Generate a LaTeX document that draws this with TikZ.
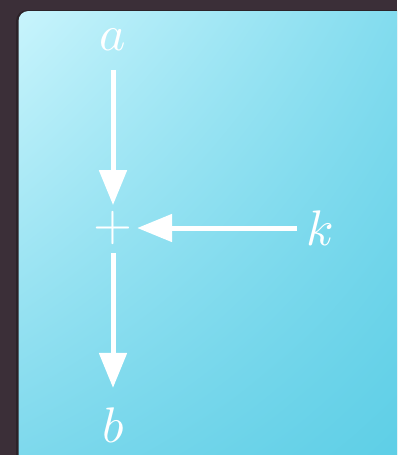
\documentclass[tikz,border=0pt]{standalone}
\DeclareFontShape{OML}{cmm}{m}{it}{<->cmmi10}{}
\DeclareFontShape{OT1}{cmr}{m}{n}{<->cmr10}{}
\DeclareFontShape{OMS}{cmsy}{m}{n}{<->cmsy10}{}
\usetikzlibrary{arrows.meta,shadings}
\definecolor{bgdark}{HTML}{3B2F38}
\definecolor{cUL}{HTML}{C8F4FC}
\definecolor{cUR}{HTML}{80DBEE}
\definecolor{cLL}{HTML}{7CD8EC}
\definecolor{cLR}{HTML}{5CCEE6}
\tikzset{
  lbl/.style={text=white, inner sep=0pt, font=\fontsize{50}{55}\selectfont},
  flow/.style={draw=white, line width=5pt, -{Triangle[length=35pt,width=27pt]}},
}
\begin{document}
\begin{tikzpicture}[x=1pt,y=-1pt]
  \useasboundingbox (0,0) rectangle (397,455);
  \fill[bgdark] (0,0) rectangle (397,455);
  \begin{scope}
    \clip (0,0) rectangle (397,455);
    \fill[black, opacity=0.25] (16,10) [rounded corners=11pt] rectangle (412,470);
    \shade[upper left=cUL, upper right=cUR, lower left=cLL, lower right=cLR, rounded corners=10pt]
      (18.5,11) rectangle (410,466);
  \end{scope}
  \node[lbl] (a) at (113,40) {$a$};
  \node[lbl] (plus) at (113,228) {$+$};
  \node[lbl] (k) at (320,228) {$k$};
  \node[lbl] (b) at (113,425) {$b$};
  \draw[flow, shorten <=19pt, shorten >=6pt] (a) -- (plus);
  \draw[flow, shorten <=9pt, shorten >=4.5pt] (k) -- (plus);
  \draw[flow, shorten <=8pt, shorten >=19.5pt] (plus) -- (b);
\end{tikzpicture}
\end{document}
